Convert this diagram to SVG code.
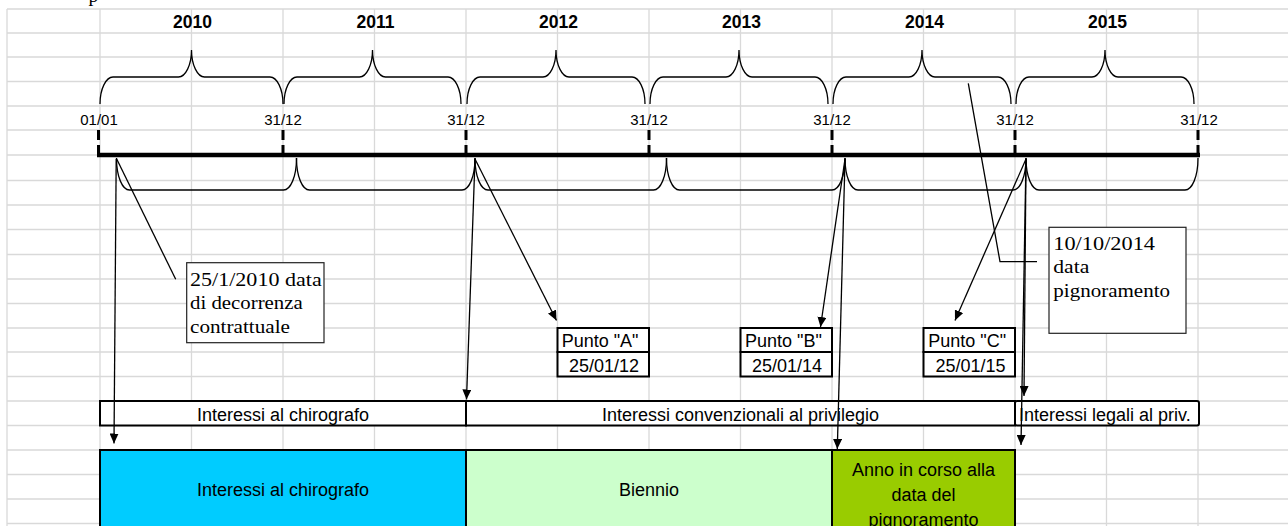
<svg xmlns="http://www.w3.org/2000/svg" width="1288" height="526" viewBox="0 0 1288 526">
<style>
.grid{stroke:#d9d9d9;stroke-width:1.3;fill:none}
.brace{fill:none;stroke:#000;stroke-width:1.3}
.ln{stroke:#000;stroke-width:1.3;fill:none}
.arr{marker-end:url(#ah)}
.tick{stroke:#000;stroke-width:3;stroke-dasharray:10 5}
.yr{font-family:"Liberation Sans",Arial,sans-serif;font-weight:bold;font-size:17.5px;text-anchor:middle;fill:#000}
.dt{font-family:"Liberation Sans",Arial,sans-serif;font-size:15px;text-anchor:middle;fill:#000}
.sans{font-family:"Liberation Sans",Arial,sans-serif;font-size:18px;fill:#000}
.mid{text-anchor:middle}
.serif{font-family:"Liberation Serif","Times New Roman",serif;font-size:19.5px;fill:#000}
.box{fill:#fff;stroke:#000;stroke-width:2}
.note{fill:#fff;stroke:#222;stroke-width:1.2}
</style>
<defs>
<marker id="ah" viewBox="0 0 10 9" refX="10" refY="4.5" markerWidth="10" markerHeight="9" markerUnits="userSpaceOnUse" orient="auto"><path d="M0,0 L10,4.5 L0,9 z" fill="#000"/></marker>
</defs>
<rect width="1288" height="526" fill="#fff"/>
<g id="grid" class="grid">
<path d="M7,9H1288M7,33H1288M7,57H1288M7,81.5H1288M7,106H1288M7,130H1288M7,155H1288M7,180.5H1288M7,205H1288M7,229.5H1288M7,254.5H1288M7,279H1288M7,303.5H1288M7,328H1288M7,352H1288M7,376.5H1288M7,401H1288M7,425.5H1288M7,450H1288M7,474.5H1288M7,499H1288M7,523.5H1288"/>
<path d="M7,9V526M100,9V526M191.5,9V526M283,9V526M374.5,9V526M466,9V526M557.5,9V526M649,9V526M740.5,9V526M832,9V526M923.5,9V526M1015,9V526M1106.5,9V526M1198,9V526"/>
</g>
<text class="serif" x="88.5" y="2">p</text>
<g id="years">
<text class="yr" x="192.5" y="28">2010</text>
<text class="yr" x="375.5" y="28">2011</text>
<text class="yr" x="558.5" y="28">2012</text>
<text class="yr" x="741.5" y="28">2013</text>
<text class="yr" x="924.5" y="28">2014</text>
<text class="yr" x="1107.5" y="28">2015</text>
</g>
<g id="year-braces" class="brace">
<path d="M100,104 C100,89 106,77 113,77 L178.5,77 C185.5,77 191.5,65 191.5,50 C191.5,65 197.5,77 204.5,77 L270,77 C277,77 283,89 283,104"/>
<path d="M284,104 C284,89 290,77 297,77 L359.5,77 C366.5,77 372.5,65 372.5,50 C372.5,65 378.5,77 385.5,77 L448,77 C455,77 461,89 461,104"/>
<path d="M467,104 C467,89 473,77 480,77 L543,77 C550,77 556,65 556,50 C556,65 562,77 569,77 L632,77 C639,77 645,89 645,104"/>
<path d="M650,104 C650,89 656,77 663,77 L726,77 C733,77 739,65 739,50 C739,65 745,77 752,77 L815,77 C822,77 828,89 828,104"/>
<path d="M833,104 C833,89 839,77 846,77 L909,77 C916,77 922,65 922,50 C922,65 928,77 935,77 L998,77 C1005,77 1011,89 1011,104"/>
<path d="M1016,104 C1016,89 1022,77 1029,77 L1092,77 C1099,77 1105,65 1105,50 C1105,65 1111,77 1118,77 L1181,77 C1188,77 1194,89 1194,104"/>
</g>
<g id="dates">
<text class="dt" x="99" y="125">01/01</text>
<text class="dt" x="283" y="125">31/12</text>
<text class="dt" x="466" y="125">31/12</text>
<text class="dt" x="649" y="125">31/12</text>
<text class="dt" x="832" y="125">31/12</text>
<text class="dt" x="1015" y="125">31/12</text>
<text class="dt" x="1199" y="125">31/12</text>
</g>
<g id="timeline">
<path class="tick" d="M98.5,130V155M283,130V155M466,130V155M649,130V155M832,130V155M1015,130V155M1198,130V155"/>
<path d="M97,155H1200" stroke="#000" stroke-width="4.5"/>
</g>
<g id="period-brackets" class="brace">
<path d="M116.5,158 C116.5,177 122.5,190 129.5,190 L283.5,190 C290.5,190 296.5,177 296.5,158"/>
<path d="M296.5,158 C296.5,177 302.5,190 309.5,190 L462,190 C469,190 475,177 475,158"/>
<path d="M475,158 C475,177 481,190 488,190 L653.5,190 C660.5,190 666.5,177 666.5,158"/>
<path d="M666.5,158 C666.5,177 672.5,190 679.5,190 L832,190 C839,190 845,177 845,158"/>
<path d="M845,158 C845,177 851,190 858,190 L1013,190 C1020,190 1026,177 1026,158"/>
<path d="M1026,158 C1026,177 1032,190 1039,190 L1185,190 C1192,190 1198,177 1198,158"/>
</g>
<g id="note-decorrenza">
<rect class="note" x="186.7" y="262.7" width="137.3" height="80"/>
<text class="serif" x="190" y="286" textLength="131.7" lengthAdjust="spacingAndGlyphs">25/1/2010 data</text>
<text class="serif" x="190" y="308.5" textLength="112.7" lengthAdjust="spacingAndGlyphs">di decorrenza</text>
<text class="serif" x="190" y="332.5" textLength="100" lengthAdjust="spacingAndGlyphs">contrattuale</text>
</g>
<g id="note-pignoramento">
<rect class="note" x="1049" y="227.3" width="137" height="106"/>
<text class="serif" x="1053.3" y="249.5" textLength="101.7" lengthAdjust="spacingAndGlyphs">10/10/2014</text>
<text class="serif" x="1053.3" y="272.5" textLength="36" lengthAdjust="spacingAndGlyphs">data</text>
<text class="serif" x="1053.3" y="296.5" textLength="116.7" lengthAdjust="spacingAndGlyphs">pignoramento</text>
</g>
<g id="punto-a">
<rect class="box" x="557.5" y="328" width="91.5" height="24"/>
<rect class="box" x="557.5" y="352" width="91.5" height="24.5"/>
<text class="sans" x="561.7" y="346.7">Punto "A"</text>
<text class="sans mid" x="604" y="371.7">25/01/12</text>
</g>
<g id="punto-b">
<rect class="box" x="740.5" y="328" width="91.5" height="24"/>
<rect class="box" x="740.5" y="352" width="91.5" height="24.5"/>
<text class="sans" x="745" y="346.7">Punto "B"</text>
<text class="sans mid" x="787" y="371.7">25/01/14</text>
</g>
<g id="punto-c">
<rect class="box" x="923.5" y="328" width="91.5" height="24"/>
<rect class="box" x="923.5" y="352" width="91.5" height="24.5"/>
<text class="sans" x="928.3" y="346.7">Punto "C"</text>
<text class="sans mid" x="970.5" y="371.7">25/01/15</text>
</g>
<g id="band-chirografo">
<rect class="box" x="100" y="401" width="366" height="24.5"/>
<text class="sans mid" x="283" y="421">Interessi al chirografo</text>
</g>
<g id="band-convenzionali">
<rect class="box" x="466" y="401" width="549" height="24.5"/>
<text class="sans mid" x="740.5" y="421">Interessi convenzionali al privilegio</text>
</g>
<g id="band-legali">
<rect class="box" x="1015" y="401" width="184" height="24.5" rx="2"/>
<text class="sans" x="1019" y="421">Interessi legali al priv.</text>
</g>
<g id="box-chirografo">
<rect x="100" y="450" width="366" height="100" fill="#00ccff" stroke="#000" stroke-width="2"/>
<text class="sans mid" x="283" y="496">Interessi al chirografo</text>
</g>
<g id="box-biennio">
<rect x="466" y="450" width="366" height="100" fill="#ccffcc" stroke="#000" stroke-width="2"/>
<text class="sans mid" x="649" y="496">Biennio</text>
</g>
<g id="box-anno">
<rect x="832" y="450" width="183" height="100" fill="#99cc00" stroke="#000" stroke-width="2"/>
<text class="sans mid" x="923.5" y="475.7">Anno in corso alla</text>
<text class="sans mid" x="923.5" y="500.7">data del</text>
<text class="sans mid" x="923.5" y="525.5">pignoramento</text>
</g>
<g id="connectors">
<path class="ln" d="M116.7,159 L175.7,279.3"/>
<path class="ln arr" d="M116.2,159 L114,443.5"/>
<path class="ln arr" d="M475,159 L466.5,399.5"/>
<path class="ln arr" d="M475,159 L556.5,320.5"/>
<path class="ln arr" d="M845,159 L820.5,327"/>
<path class="ln arr" d="M845,159 L837.3,449"/>
<path class="ln arr" d="M1026,159 L955,320.5"/>
<path class="ln arr" d="M1026,159 L1024,396"/>
<path class="ln arr" d="M1026,159 L1021,445"/>
<path class="ln" d="M968.3,83.3 L1000,261.7 L1037,261.7"/>
</g>
</svg>
